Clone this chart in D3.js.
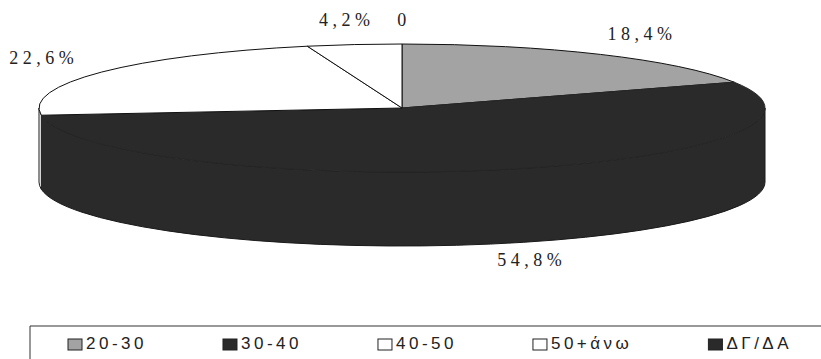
<!DOCTYPE html>
<html>
<head>
<meta charset="utf-8">
<script src="https://cdnjs.cloudflare.com/ajax/libs/d3/7.8.5/d3.min.js"></script>
<style>
  body { margin: 0; background: #fff; }
  svg { display: block; }
</style>
</head>
<body>
<div id="pie-chart"></div>
<script>
// Age groups and their shares (%)
const categories = ["20-30", "30-40", "40-50", "50+άνω", "ΔΓ/ΔΑ"];
const values = [18.4, 54.8, 22.6, 4.2, 0];
const labels = ["18,4%", "54,8%", "22,6%", "4,2%", "0"];
const colors = ["#a3a3a3", "#2a2a2a", "#ffffff", "#ffffff", "#2a2a2a"];

const width = 821, height = 359;

// Ellipse geometry of the tilted pie
const cx = 402, cy = 108, rx = 363, ry = 64, depth = 74;

const svg = d3.select("#pie-chart")
    .append("svg")
    .attr("width", width)
    .attr("height", height);

const color = d3.scaleOrdinal().domain(categories).range(colors);

const data = categories.map((c, i) => ({cat: c, value: values[i], label: labels[i]}));

const pie = d3.pie()
    .sort(null)
    .value(d => d.value)
    .startAngle(0)
    .endAngle(2 * Math.PI);

const arcs = pie(data);

// point on the ellipse for angle a (clockwise from top)
const pt = (a, dy = 0) => [cx + rx * Math.sin(a), cy - ry * Math.cos(a) + dy];

// Side walls (only the front half is visible)
const sideData = arcs.map(d => {
    const a0 = Math.max(d.startAngle, Math.PI / 2);
    const a1 = Math.min(d.endAngle, 3 * Math.PI / 2);
    return {d, a0, a1};
}).filter(s => s.a1 > s.a0);

svg.selectAll("path.side")
    .data(sideData)
    .enter()
    .append("path")
    .attr("class", "side")
    .attr("d", s => {
        const p0 = pt(s.a0), p1 = pt(s.a1);
        const q0 = pt(s.a0, depth), q1 = pt(s.a1, depth);
        const large = (s.a1 - s.a0) > Math.PI ? 1 : 0;
        return `M${p0}A${rx},${ry} 0 ${large} 1 ${p1}L${q1}A${rx},${ry} 0 ${large} 0 ${q0}Z`;
    })
    .attr("fill", s => color(s.d.data.cat))
    .attr("stroke", "#1a1a1a")
    .attr("stroke-width", 1);

// Top slices
svg.selectAll("path.top")
    .data(arcs.filter(d => d.value > 0))
    .enter()
    .append("path")
    .attr("class", "top")
    .attr("d", d => {
        const p0 = pt(d.startAngle), p1 = pt(d.endAngle);
        const large = (d.endAngle - d.startAngle) > Math.PI ? 1 : 0;
        return `M${cx},${cy}L${p0}A${rx},${ry} 0 ${large} 1 ${p1}Z`;
    })
    .attr("fill", d => color(d.data.cat))
    .attr("stroke", d => color(d.data.cat) === "#2a2a2a" ? "#262626" : "#111")
    .attr("stroke-width", 1)
    .attr("stroke-linejoin", "round");

// Percentage labels
const labelPos = d => {
    const m = (d.startAngle + d.endAngle) / 2;
    if (Math.cos(m) < 0) {           // front labels go under the wall
        return [cx + rx * 1.35 * Math.sin(m), cy + ry + depth + 16];
    }
    return [cx + rx * 1.2 * Math.sin(m), cy - ry * 1.35 * Math.cos(m)];
};

svg.selectAll("text.pct")
    .data(arcs)
    .enter()
    .append("text")
    .attr("class", "pct")
    .attr("x", d => labelPos(d)[0] + 2)
    .attr("y", d => labelPos(d)[1])
    .attr("text-anchor", "middle")
    .attr("dominant-baseline", "middle")
    .style("font-family", "'Liberation Serif', 'DejaVu Serif', serif")
    .style("font-size", "18px")
    .style("letter-spacing", "4.5px")
    .style("fill", "#222")
    .text(d => d.data.label);

// Legend
const legend = svg.append("g");
legend.append("path")
    .attr("d", `M${width + 5},326H30V${height + 5}`)
    .attr("fill", "none")
    .attr("stroke", "#333")
    .attr("stroke-width", 1);

const item = legend.selectAll("g.item")
    .data(data)
    .enter()
    .append("g")
    .attr("class", "item");

item.append("rect")
    .attr("x", 0)
    .attr("y", -6)
    .attr("width", 14)
    .attr("height", 11)
    .attr("fill", d => color(d.cat))
    .attr("stroke", "#222")
    .attr("stroke-width", 1);

item.append("text")
    .attr("x", 18)
    .attr("y", 0)
    .attr("dominant-baseline", "middle")
    .style("font-family", "'Liberation Sans', Arial, sans-serif")
    .style("font-size", "17px")
    .style("letter-spacing", "3.5px")
    .style("fill", "#222")
    .text(d => d.cat);

// lay the legend entries out one after another
let lx = 68;
item.each(function() {
    const g = d3.select(this);
    g.attr("transform", `translate(${lx},345)`);
    lx += 18 + g.select("text").node().getComputedTextLength() + 76;
});
</script>
</body>
</html>
